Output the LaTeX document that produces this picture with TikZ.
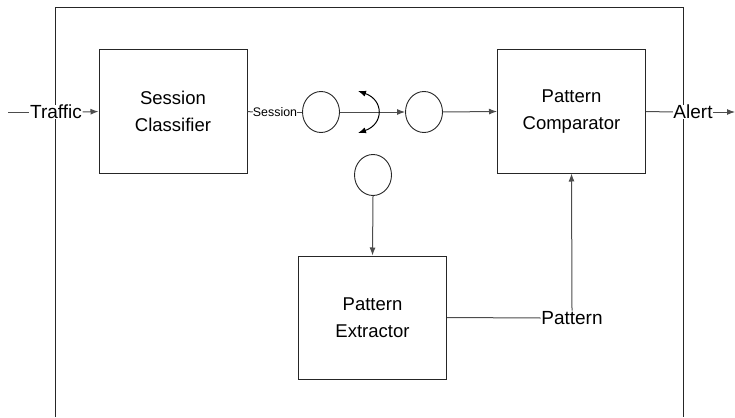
\documentclass[tikz,border=0pt]{standalone}
\usepackage{fontspec}
\setmainfont{Liberation Sans}
\usetikzlibrary{calc,positioning,arrows.meta,shapes.geometric}
\tikzset{
  block/.style={draw=black!85,line width=1pt,minimum width=148pt,minimum height=123pt,
    align=center,font=\fontsize{18.5}{27}\selectfont},
  port/.style={draw=black!85,line width=0.9pt,ellipse,minimum width=37pt,minimum height=41pt,inner sep=0pt},
  tag/.style={fill=white,inner sep=0.5pt,font=\fontsize{19}{21}\selectfont},
  wire/.style={draw=black!70,line width=1pt},
  flow/.style={wire,-{Latex[length=8pt,width=6pt]}}
}

\begin{document}
\begin{tikzpicture}[x=1pt,y=-1pt]
\useasboundingbox (0,0) rectangle (735,417);

\draw[black!85,line width=1pt] (55,417) -- (55,8) -- (683,8) -- (683,417);

\node[block] (classifier) at (173,111.5) {Session\\Classifier};
\node[block] (comparator) at (571.5,111.5) {Pattern\\Comparator};
\node[block] (extractor) at (372.5,317.5) {Pattern\\Extractor};

\node[port] (c1) at (321,112) {};
\node[port] (c2) at (424,112) {};
\node[port] (c3) at (373,175) {};

\node[tag] (traffic) at (56,112) {Traffic};
\node[tag,font=\fontsize{12.4}{14}\selectfont,inner sep=0pt] (session) at (275,112) {Session};
\node[tag] (alert) at (693,112) {Alert};
\node[tag] (pattern) at (572,318) {Pattern};

\coordinate (in) at (8,112);
\coordinate (out) at (735,112);

\draw[wire] (in) -- (traffic.west);
\draw[flow] (traffic.east) -- (classifier.west);
\draw[wire] (classifier.east) -- (session.west);
\draw[wire] (session.east) -- (c1.west);
\draw[flow] (c1.east) -- (c2.west);
\draw[flow] (c2.east) -- (comparator.west);
\draw[wire] (comparator.east) -- (alert.west);
\draw[flow] (alert.east) -- (out);
\draw[flow] (c3.south) -- (extractor.north);
\draw[wire] (extractor.east) -- (pattern.west);
\draw[flow] (pattern.north) -- (comparator.south);

\coordinate (sw top) at (358,91);
\coordinate (sw bot) at (358,133);
\draw[black,line width=1pt,{Latex[length=8pt,width=6pt]}-{Latex[length=8pt,width=6pt]}]
  (sw top) .. controls (384,100) and (384,124) .. (sw bot);
\end{tikzpicture}
\end{document}
